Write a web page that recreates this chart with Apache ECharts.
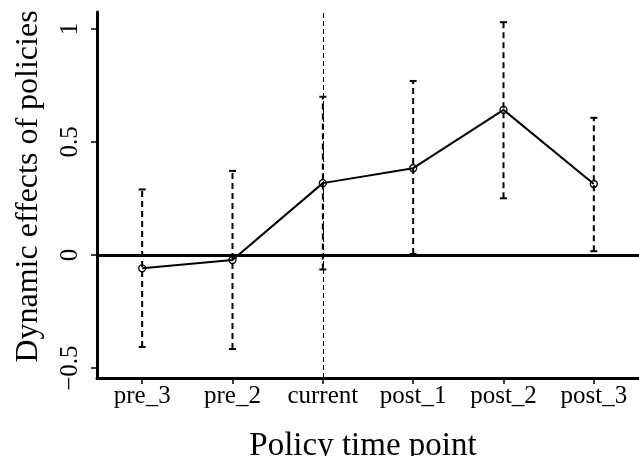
<!DOCTYPE html>
<html>
<head>
<meta charset="utf-8">
<script src="https://cdn.jsdelivr.net/npm/echarts@6/dist/echarts.min.js"></script>
<style>
html,body{margin:0;padding:0;background:#fff;}
#chart{width:639px;height:456px;}
</style>
</head>
<body>
<div id="chart"></div>
<script>
const categories = ['pre_3', 'pre_2', 'current', 'post_1', 'post_2', 'post_3'];
const effects = [-0.059, -0.022, 0.318, 0.384, 0.642, 0.314];
const lower = [-0.407, -0.416, -0.064, 0.004, 0.251, 0.017];
const upper = [0.290, 0.372, 0.700, 0.770, 1.030, 0.607];
const yTicks = [-0.5, 0, 0.5, 1];

const FONT = 'Liberation Serif';
const chart = echarts.init(document.getElementById('chart'));

const errData = categories.map((c, i) => [i, lower[i], upper[i]]);

chart.setOption({
  animation: false,
  backgroundColor: '#ffffff',
  grid: { left: 97, right: 0, top: 12, bottom: 78, containLabel: false, outerBoundsMode: 'none' },
  xAxis: {
    type: 'category',
    data: categories,
    boundaryGap: true,
    name: 'Policy time point',
    nameLocation: 'middle',
    nameGap: 52,
    nameTextStyle: { fontFamily: FONT, fontSize: 33, color: '#000', padding: [0, 10, 0, 0] },
    axisLine: { show: true, onZero: false, lineStyle: { color: '#000', width: 3 } },
    axisTick: { show: true, alignWithLabel: true, length: 6, lineStyle: { color: '#000', width: 1.5 } },
    axisLabel: { fontFamily: FONT, fontSize: 25, color: '#000', margin: 6, interval: 0 },
    splitLine: { show: false }
  },
  yAxis: {
    type: 'value',
    min: -0.544,
    max: 1.075,
    name: 'Dynamic effects of policies',
    nameLocation: 'middle',
    nameRotate: 90,
    nameGap: 52,
    nameTextStyle: { fontFamily: FONT, fontSize: 32, color: '#000', padding: [0, 0, 0, 17] },
    axisLine: { show: true, onZero: false, lineStyle: { color: '#000', width: 3 } },
    axisTick: { show: true, length: 6, customValues: yTicks, lineStyle: { color: '#000', width: 1.5 } },
    axisLabel: {
      fontFamily: FONT, fontSize: 25, color: '#000', rotate: 90, margin: 14,
      customValues: yTicks,
      formatter: v => String(v).replace('-', '\u2212')
    },
    splitLine: { show: false }
  },
  series: [
    {
      type: 'custom',
      name: 'ci',
      data: errData,
      clip: false,
      z: 3,
      renderItem: function (params, api) {
        const x = api.value(0);
        const lo = api.coord([x, api.value(1)]);
        const hi = api.coord([x, api.value(2)]);
        const cw = 3.5;
        const st = { stroke: '#000', lineWidth: 2 };
        return {
          type: 'group',
          children: [
            { type: 'line', shape: { x1: lo[0], y1: lo[1], x2: hi[0], y2: hi[1] },
              style: { stroke: '#000', lineWidth: 2, lineDash: [6, 4] } },
            { type: 'line', shape: { x1: hi[0] - cw, y1: hi[1], x2: hi[0] + cw, y2: hi[1] }, style: st },
            { type: 'line', shape: { x1: lo[0] - cw, y1: lo[1], x2: lo[0] + cw, y2: lo[1] }, style: st }
          ]
        };
      }
    },
    {
      type: 'line',
      name: 'effect',
      data: effects,
      z: 4,
      symbol: 'circle',
      symbolSize: 7,
      showSymbol: true,
      itemStyle: { color: 'rgba(0,0,0,0)', borderColor: '#000', borderWidth: 1.3 },
      lineStyle: { color: '#000', width: 2 },
      markLine: {
        silent: true,
        symbol: ['none', 'none'],
        label: { show: false },
        data: [
          { yAxis: 0, lineStyle: { color: '#000', width: 3, type: 'solid' } },
          { xAxis: 'current', lineStyle: { color: '#000', width: 1, type: [5, 3] } }
        ]
      }
    }
  ]
});
</script>
</body>
</html>
